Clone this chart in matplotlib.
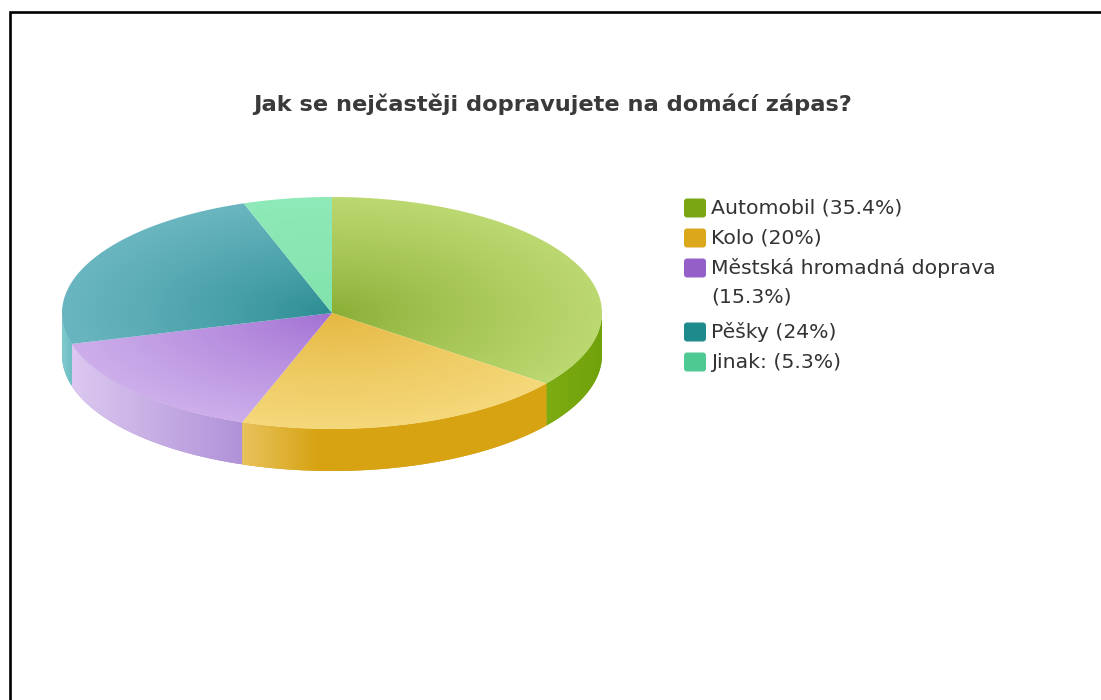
import numpy as np
import matplotlib
matplotlib.use("Agg")
import matplotlib.pyplot as plt
from matplotlib.patches import Polygon, FancyBboxPatch
from matplotlib.colors import LinearSegmentedColormap

title = "Jak se nejčastěji dopravujete na domácí zápas?"
labels = ["Automobil", "Kolo", "Městská hromadná doprava", "Pěšky", "Jinak:"]
values = [35.4, 20, 15.3, 24, 5.3]

# colours: legend swatch, top face (centre -> rim), side wall (left -> right)
swatch = ["#79a612", "#dba81c", "#9460c8", "#1f8a8c", "#4fc992"]
top_in = ["#88ad34", "#e4b63e", "#a06ed2", "#2a8c92", "#80e2aa"]
top_out = ["#bcd870", "#f5d87a", "#cdaeeb", "#6ab6c0", "#8eeab8"]
side_l = ["#7cac12", "#e8c25c", "#dcc8f0", "#80cace", "#80dca8"]
side_r = ["#72a20a", "#d7a312", "#b092d8", "#6cbec4", "#70d098"]

W, H = 1101, 700
fig = plt.figure(figsize=(W / 100, H / 100), dpi=100)
ax = fig.add_axes([0, 0, 1, 1])
ax.set_xlim(0, W)
ax.set_ylim(H, 0)
ax.axis("off")

# pie geometry in pixels
cx, cy, rx, ry, depth = 332, 313, 270, 116, 42
bounds = 2 * np.pi * np.concatenate([[0], np.cumsum(values)]) / np.sum(values)


def rim(t):
    return cx + rx * np.sin(t), cy - ry * np.cos(t)


def clipped_image(img, extent, pts, cmap):
    patch = Polygon(pts, closed=True, facecolor="none", edgecolor="none")
    ax.add_patch(patch)
    im = ax.imshow(img, extent=extent, cmap=cmap, vmin=0, vmax=1,
                   origin="upper", interpolation="bilinear", aspect="auto", zorder=2)
    im.set_clip_path(patch)


# side walls (front half only)
for i in range(len(values)):
    lo = max(bounds[i], np.pi / 2)
    hi = min(bounds[i + 1], 3 * np.pi / 2)
    if lo >= hi:
        continue
    t = np.linspace(lo, hi, 200)
    x, y = rim(t)
    pts = np.column_stack([np.concatenate([x, x[::-1]]),
                           np.concatenate([y, y[::-1] + depth])])
    x0, x1 = pts[:, 0].min(), pts[:, 0].max()
    y0, y1 = pts[:, 1].min(), pts[:, 1].max()
    grad = np.tile(np.linspace(0, 1, 200), (20, 1))
    if i == 1:
        cmap = LinearSegmentedColormap.from_list("s", [(0, side_l[i]), (0.25, side_r[i]), (1, side_r[i])])
    else:
        cmap = LinearSegmentedColormap.from_list("s", [side_l[i], side_r[i]])
    ax.add_patch(Polygon(pts, closed=True, facecolor=side_r[i], edgecolor="none", zorder=1))
    clipped_image(grad, (x0, x1, y1, y0), pts, cmap)

# top faces with radial shading
gx = np.linspace(cx - rx, cx + rx, 400)
gy = np.linspace(cy - ry, cy + ry, 200)
X, Y = np.meshgrid(gx, gy)
R = np.clip(np.sqrt(((X - cx) / rx) ** 2 + ((Y - cy) / ry) ** 2), 0, 1) ** 0.8
for i in range(len(values)):
    t = np.linspace(bounds[i], bounds[i + 1], 300)
    x, y = rim(t)
    pts = np.column_stack([np.concatenate([[cx], x]), np.concatenate([[cy], y])])
    cmap = LinearSegmentedColormap.from_list("t", [top_in[i], top_out[i]])
    clipped_image(R, (cx - rx, cx + rx, cy + ry, cy - ry), pts, cmap)

ax.set_xlim(0, W)
ax.set_ylim(H, 0)

ax.text(553, 104, title, ha="center", va="center", fontsize=16.2,
        fontweight="bold", color="#3a3a3a")

# legend
ly = 208
for lab, val, col in zip(labels, values, swatch):
    txt = f"{lab} ({val:g}%)"
    lines = [f"{lab}", f"({val:g}%)"] if len(txt) > 26 else [txt]
    ax.add_patch(FancyBboxPatch((684, ly - 9.5), 22, 19, boxstyle="round,pad=0,rounding_size=3",
                                facecolor=col, edgecolor="none", zorder=3))
    for k, line in enumerate(lines):
        ax.text(711, ly + 29 * k, line, ha="left", va="center", fontsize=14.7, color="#333333")
    ly += 30 + 34 * (len(lines) - 1)

# frame
ax.plot([10, 10, W], [H, 12, 12], color="black", lw=1.9, solid_joinstyle="miter")

fig.savefig("out.png", dpi=100, facecolor="white")
